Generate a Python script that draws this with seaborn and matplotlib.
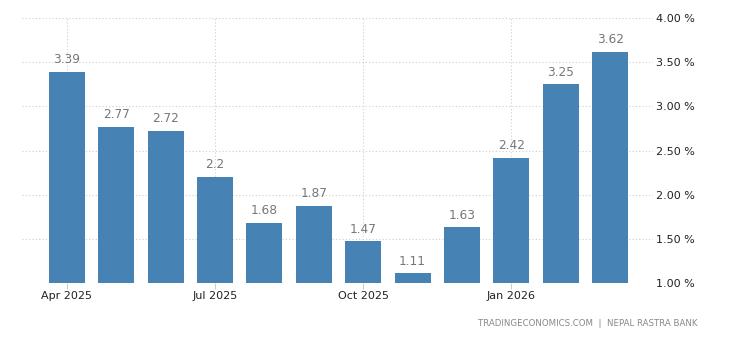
import matplotlib
matplotlib.use("Agg")
import matplotlib.pyplot as plt
import seaborn as sns
import pandas as pd

months = ["Apr 2025", "May 2025", "Jun 2025", "Jul 2025", "Aug 2025", "Sep 2025",
          "Oct 2025", "Nov 2025", "Dec 2025", "Jan 2026", "Feb 2026", "Mar 2026"]
values = [3.39, 2.77, 2.72, 2.2, 1.68, 1.87, 1.47, 1.11, 1.63, 2.42, 3.25, 3.62]
value_labels = ["3.39", "2.77", "2.72", "2.2", "1.68", "1.87", "1.47", "1.11", "1.63", "2.42", "3.25", "3.62"]
xtick_labels = ["Apr 2025", "Jul 2025", "Oct 2025", "Jan 2026"]
ytick_values = [1.0, 1.5, 2.0, 2.5, 3.0, 3.5, 4.0]

sns.set_theme(style="white")
plt.rcParams['font.family'] = ['DejaVu Sans']

df = pd.DataFrame({"month": months, "value": values})

fig = plt.figure(figsize=(7.3, 3.4), dpi=100)
ax = fig.add_axes([22/730, 1 - 283/340, (653 - 22)/730, 265/340])

sns.barplot(data=df, x="month", y="value", color="#4682b4", saturation=1,
            width=0.73, ax=ax, zorder=3, linewidth=0, edgecolor="none")

ax.set_ylim(1.0, 4.0)
ax.set_xlim(-0.91, 11.87)

for i, (v, lab) in enumerate(zip(values, value_labels)):
    ax.text(i, v + 0.065, lab, ha="center", va="bottom", fontsize=8.7, color="#777777", zorder=4)

# x ticks
tick_pos = [months.index(m) for m in xtick_labels]
ax.set_xticks(tick_pos)
ax.set_xticklabels(xtick_labels, fontsize=8, color="#222222")
ax.tick_params(axis="x", length=4, width=0.8, color="#cccccc", pad=2, bottom=True)

# y ticks on right
ax.yaxis.tick_right()
ax.set_yticks(ytick_values)
ax.set_yticklabels([f"{t:.2f} %" for t in ytick_values], fontsize=8, color="#222222")
ax.tick_params(axis="y", length=0, pad=2)

ax.set_xlabel("")
ax.set_ylabel("")
for s in ax.spines.values():
    s.set_visible(False)

ax.grid(True, axis="both", linestyle=(0, (1, 2)), color="#cfcfcf", linewidth=0.8, zorder=0)
ax.set_axisbelow(True)

fig.text(697/730, 1 - 323/340, "TRADINGECONOMICS.COM  |  NEPAL RASTRA BANK",
         ha="right", va="center", fontsize=6.2, color="#888888")

fig.savefig("out.png", dpi=100)
